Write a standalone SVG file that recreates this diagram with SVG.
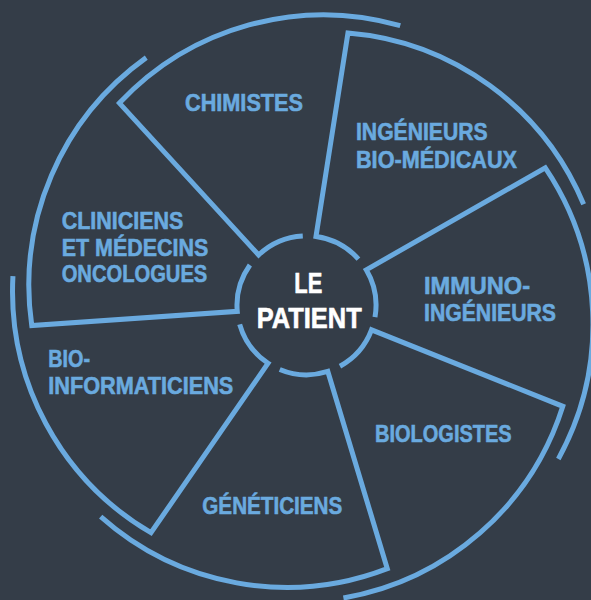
<svg xmlns="http://www.w3.org/2000/svg" xmlns:xlink="http://www.w3.org/1999/xlink" width="591" height="600" viewBox="0 0 591 600">
  <style>
    .bg { fill: #343d48; }
    .w { fill: none; stroke: #6aaadf; stroke-width: 5; stroke-linejoin: miter; stroke-linecap: butt; }
    .t { font-family: "Liberation Sans", Arial, sans-serif; font-weight: bold; font-size: 24px; fill: #6aaadf; stroke: #6aaadf; stroke-width: 0.6px; }
    .c { font-family: "Liberation Sans", Arial, sans-serif; font-weight: bold; font-size: 29px; fill: #ffffff; stroke: #ffffff; stroke-width: 0.6px; }
  </style>
  <defs>
    <path id="wedge" d="M 249.92 264.94 A 69.5 69.5 0 0 0 237.26 311.36 L 31.74 325.48 A 280 280 0 0 1 146.26 57.61"/>
  </defs>
  <rect class="bg" x="0" y="0" width="591" height="600"/>

  <g id="connectors">
  </g>

  <g id="cliniciens">
    <use xlink:href="#wedge" href="#wedge" class="w"/>
    <text class="t" x="61.7" y="229.3" textLength="121.6" lengthAdjust="spacingAndGlyphs">CLINICIENS</text>
    <text class="t" x="61.7" y="256" textLength="146.6" lengthAdjust="spacingAndGlyphs">ET MÉDECINS</text>
    <text class="t" x="61.7" y="281.7" textLength="145.6" lengthAdjust="spacingAndGlyphs">ONCOLOGUES</text>
  </g>

  <g id="chimistes">
    <use xlink:href="#wedge" href="#wedge" class="w" transform="rotate(51.4286 306.5 305.3)"/>
    <text class="t" x="185" y="111" textLength="118" lengthAdjust="spacingAndGlyphs">CHIMISTES</text>
  </g>

  <g id="ingenieurs-bio-medicaux">
    <use xlink:href="#wedge" href="#wedge" class="w" transform="rotate(102.8571 306.5 305.3)"/>
    <text class="t" x="356" y="140" textLength="131.5" lengthAdjust="spacingAndGlyphs">INGÉNIEURS</text>
    <text class="t" x="356" y="167.5" textLength="161" lengthAdjust="spacingAndGlyphs">BIO-MÉDICAUX</text>
  </g>

  <g id="immuno-ingenieurs">
    <use xlink:href="#wedge" href="#wedge" class="w" transform="rotate(154.2857 306.5 305.3)"/>
    <text class="t" x="424" y="294.3" textLength="106" lengthAdjust="spacingAndGlyphs">IMMUNO-</text>
    <text class="t" x="424" y="320.7" textLength="132" lengthAdjust="spacingAndGlyphs">INGÉNIEURS</text>
  </g>

  <g id="biologistes">
    <use xlink:href="#wedge" href="#wedge" class="w" transform="rotate(205.7143 306.5 305.3)"/>
    <text class="t" x="375" y="441.7" textLength="136.7" lengthAdjust="spacingAndGlyphs">BIOLOGISTES</text>
  </g>

  <g id="geneticiens">
    <use xlink:href="#wedge" href="#wedge" class="w" transform="rotate(257.1429 306.5 305.3)"/>
    <text class="t" x="202.3" y="514.3" textLength="140" lengthAdjust="spacingAndGlyphs">GÉNÉTICIENS</text>
  </g>

  <g id="bio-informaticiens">
    <use xlink:href="#wedge" href="#wedge" class="w" transform="rotate(308.5714 306.5 305.3)"/>
    <text class="t" x="48.3" y="366.7" textLength="41.7" lengthAdjust="spacingAndGlyphs">BIO-</text>
    <text class="t" x="48.3" y="394" textLength="185" lengthAdjust="spacingAndGlyphs">INFORMATICIENS</text>
  </g>

  <g id="le-patient">
    <text class="c" x="294.3" y="293.3" textLength="28" lengthAdjust="spacingAndGlyphs">LE</text>
    <text class="c" x="256.7" y="327.7" textLength="105" lengthAdjust="spacingAndGlyphs">PATIENT</text>
  </g>
</svg>
